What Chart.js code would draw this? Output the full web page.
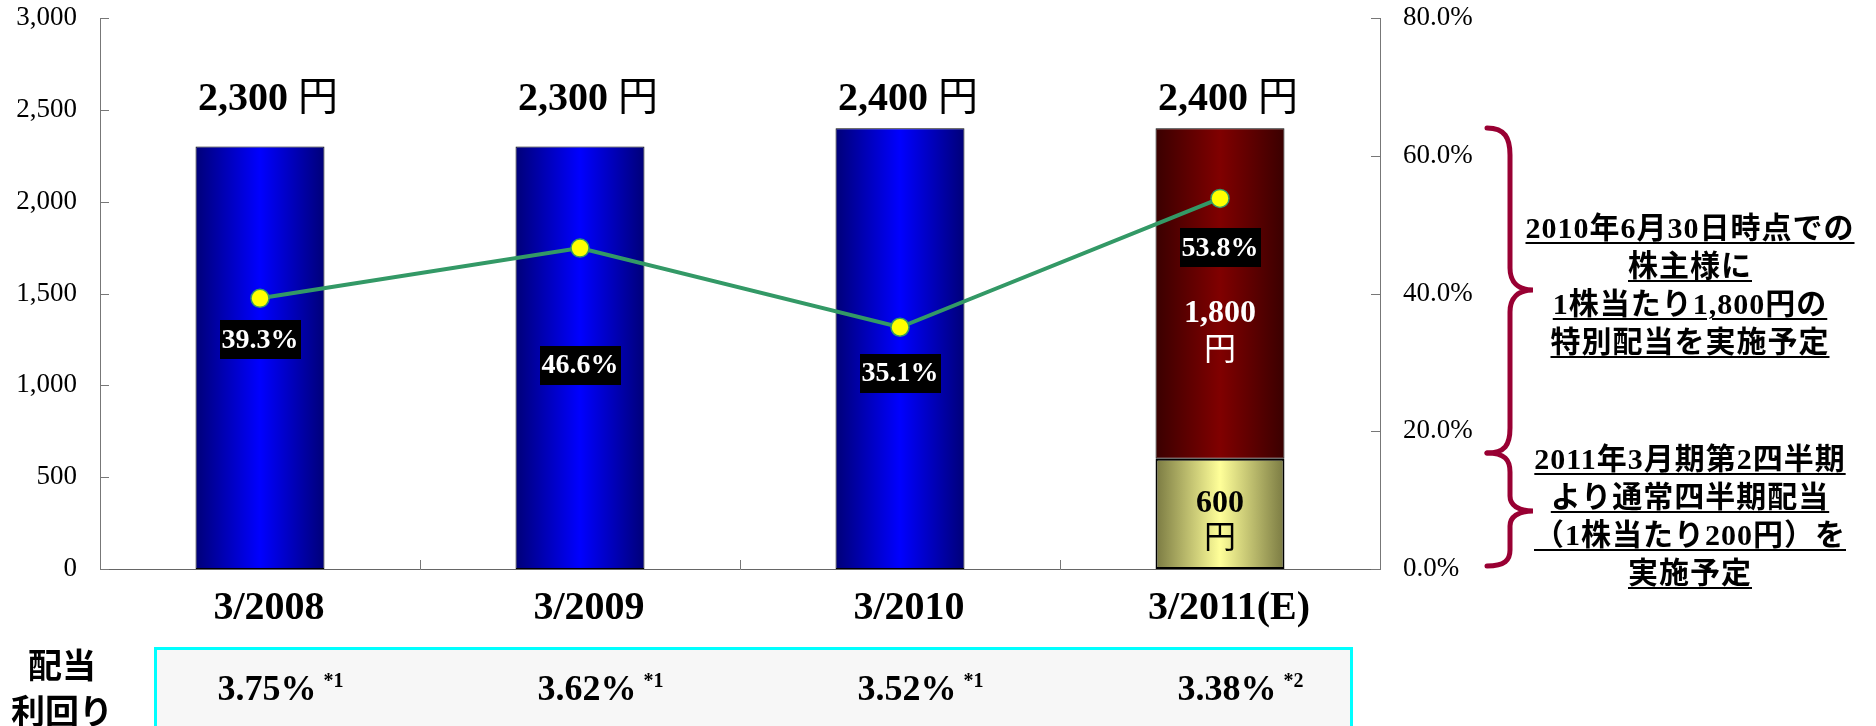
<!DOCTYPE html>
<html>
<head>
<meta charset="utf-8">
<script src="https://cdn.jsdelivr.net/npm/chart.js@4/dist/chart.umd.min.js"></script>
<style>
html,body{margin:0;padding:0;background:#fff;}
#wrap{position:relative;width:1876px;height:726px;overflow:hidden;}
#c{position:absolute;left:0;top:0;}
svg{position:absolute;left:0;top:0;}
.note{position:absolute;left:1515px;width:350px;text-align:center;font-family:'Liberation Serif','Noto Sans CJK JP',serif;font-weight:bold;font-size:30px;line-height:38px;color:#000;letter-spacing:1px;}
.note div span{text-decoration:underline;text-decoration-thickness:2px;text-underline-offset:4px;}
.ylab{position:absolute;left:0;top:641px;width:124px;text-align:center;font-family:'Noto Sans CJK JP',sans-serif;font-weight:bold;font-size:34px;line-height:46px;color:#000;}
</style>
</head>
<body>
<div id="wrap">
<canvas id="c" width="1876" height="726"></canvas>
<svg width="1876" height="726">
  <path d="M1487,128 C1505,128 1510,138 1510,155 L1510,268 C1510,282 1518,290 1533,290 C1518,290 1510,298 1510,312 L1510,428 C1510,445 1505,453 1487,453" fill="none" stroke="#990033" stroke-width="5" stroke-linecap="round"/>
  <path d="M1487,453 C1505,453 1510,460 1510,472 L1510,496 C1510,505 1518,511 1533,511 C1518,511 1510,517 1510,526 L1510,550 C1510,560 1505,566 1487,566" fill="none" stroke="#990033" stroke-width="5" stroke-linecap="round"/>
</svg>
<div class="note" style="top:209px">
  <div><span>2010年6月30日時点での</span></div>
  <div><span>株主様に</span></div>
  <div><span>1株当たり1,800円の</span></div>
  <div><span>特別配当を実施予定</span></div>
</div>
<div class="note" style="top:440px">
  <div><span>2011年3月期第2四半期</span></div>
  <div><span>より通常四半期配当</span></div>
  <div><span>（1株当たり200円）を</span></div>
  <div><span>実施予定</span></div>
</div>
<div class="ylab">配当<br>利回り</div>
</div>
<script>
// ---- data ----
const categories = ['3/2008', '3/2009', '3/2010', '3/2011(E)'];
const regularDividend = [2300, 2300, 2400, 600];
const specialDividend = [null, null, null, 1800];
const payoutRatio = [39.3, 46.6, 35.1, 53.8];
const dividendYield = ['3.75%', '3.62%', '3.52%', '3.38%'];
const yieldNotes = ['*1', '*1', '*1', '*2'];
const leftTickLabels = ['0', '500', '1,000', '1,500', '2,000', '2,500', '3,000'];
const rightTickLabels = ['0.0%', '20.0%', '40.0%', '60.0%', '80.0%'];

// ---- style ----
const SERIF = "'Liberation Serif', 'Noto Sans CJK JP', serif";
const BAR_PCT = 0.403;
const BLUE = ['#000078', '#0000ff'];
const RED = ['#3a0000', '#800000'];
const YELLOW = ['#7a7a42', '#ffff99'];
const pctLabelDy = [41, 117, 46, 49];

function barGradient(c, stops) {
  const chart = c.chart;
  if (!chart.chartArea || c.dataIndex === undefined) return stops[1];
  const xs = chart.scales.x;
  const cx = xs.getPixelForValue(c.dataIndex);
  const w = (xs.width / categories.length) * BAR_PCT;
  const g = chart.ctx.createLinearGradient(cx - w / 2, 0, cx + w / 2, 0);
  g.addColorStop(0, stops[0]);
  g.addColorStop(0.5, stops[1]);
  g.addColorStop(1, stops[0]);
  return g;
}

function drawParts(ctx, parts, cx, y) {
  let total = 0;
  parts.forEach(p => { ctx.font = p.font; p.w = ctx.measureText(p.t).width; total += p.w; });
  let x = cx - total / 2;
  ctx.textAlign = 'left';
  parts.forEach(p => { ctx.font = p.font; ctx.fillText(p.t, x, y); x += p.w; });
  return x;
}
const fmt = v => v.toLocaleString('en-US');
function noPad(s) { s.paddingTop = 0; s.paddingBottom = 0; s.paddingLeft = 0; s.paddingRight = 0; }

const decor = {
  id: 'decor',
  afterDatasetsDraw(chart) {
    const ctx = chart.ctx, ca = chart.chartArea;
    const xs = chart.scales.x, ys = chart.scales.y, y1 = chart.scales.y1;
    ctx.save();
    // inward tick marks
    ctx.strokeStyle = '#777'; ctx.lineWidth = 1;
    ctx.beginPath();
    ys.ticks.forEach((t, i) => { const p = Math.round(ys.getPixelForTick(i)) + 0.5; ctx.moveTo(ca.left, p); ctx.lineTo(ca.left + 9, p); });
    y1.ticks.forEach((t, i) => { const p = Math.round(y1.getPixelForTick(i)) + 0.5; ctx.moveTo(ca.right, p); ctx.lineTo(ca.right - 9, p); });
    for (let i = 0; i <= categories.length; i++) {
      const p = Math.round(xs.left + i * xs.width / categories.length) + 0.5;
      ctx.moveTo(p, ca.bottom); ctx.lineTo(p, ca.bottom - 9);
    }
    ctx.stroke();

    // totals above bars
    ctx.fillStyle = '#000'; ctx.textBaseline = 'alphabetic';
    const m0 = chart.getDatasetMeta(0), m1 = chart.getDatasetMeta(1);
    categories.forEach((c, i) => {
      const total = regularDividend[i] + (specialDividend[i] || 0);
      const cx = m0.data[i].x + 8;
      drawParts(ctx, [{t: fmt(total), font: 'bold 40px ' + SERIF}, {t: ' 円', font: '40px ' + SERIF}], cx, ca.top + 92);
    });

    // segment labels inside the stacked bar
    const segs = [
      {meta: m1, vals: specialDividend, color: '#fff', d1: 20, d2: 58},
      {meta: m0, vals: regularDividend, color: '#000', d1: -10, d2: 26, only: 3}
    ];
    ctx.textBaseline = 'middle';
    segs.forEach(s => {
      s.vals.forEach((v, i) => {
        if (v == null) return;
        if (s.only !== undefined && i !== s.only) return;
        const el = s.meta.data[i];
        const cy = (el.y + el.base) / 2;
        ctx.fillStyle = s.color; ctx.textAlign = 'center';
        ctx.font = 'bold 32px ' + SERIF; ctx.fillText(fmt(v), el.x, cy + s.d1);
        ctx.font = '32px ' + SERIF; ctx.fillText('円', el.x, cy + s.d2);
      });
    });

    // payout ratio labels
    const ml = chart.getDatasetMeta(2);
    ctx.font = 'bold 28px ' + SERIF;
    ml.data.forEach((pt, i) => {
      const t = payoutRatio[i].toFixed(1) + '%';
      const w = ctx.measureText(t).width + 4, h = 39;
      const cy = pt.y + pctLabelDy[i];
      ctx.fillStyle = '#000';
      ctx.fillRect(Math.round(pt.x - w / 2), Math.round(cy - h / 2), Math.round(w), h);
      ctx.fillStyle = '#fff'; ctx.textAlign = 'center'; ctx.textBaseline = 'middle';
      ctx.fillText(t, pt.x, cy + 1);
    });

    // dividend yield row
    ctx.fillStyle = '#f7f7f7';
    ctx.fillRect(155, 648, 1196, 90);
    ctx.strokeStyle = '#00ffff'; ctx.lineWidth = 3;
    ctx.strokeRect(155.5, 648.5, 1196, 90);
    ctx.fillStyle = '#000'; ctx.textBaseline = 'alphabetic';
    dividendYield.forEach((t, i) => {
      const cx = xs.getPixelForValue(i) + 7;
      ctx.font = 'bold 36px ' + SERIF; ctx.textAlign = 'center';
      ctx.fillText(t, cx, 700);
      const w = ctx.measureText(t).width;
      ctx.font = 'bold 20px ' + SERIF; ctx.textAlign = 'left';
      ctx.fillText(yieldNotes[i], cx + w / 2 + 7, 687);
    });
    ctx.restore();
  }
};

new Chart(document.getElementById('c'), {
  data: {
    labels: categories,
    datasets: [
      {
        type: 'bar', label: '普通配当', data: regularDividend, order: 1,
        backgroundColor: c => barGradient(c, c.dataIndex === 3 ? YELLOW : BLUE),
        borderColor: '#000', borderWidth: c => (c.dataIndex === 3 ? 2 : 1), borderSkipped: false,
        barPercentage: BAR_PCT, categoryPercentage: 1.0, yAxisID: 'y'
      },
      {
        type: 'bar', label: '特別配当', data: specialDividend, order: 1,
        backgroundColor: c => barGradient(c, RED),
        borderColor: '#000', borderWidth: 1, borderSkipped: false,
        barPercentage: BAR_PCT, categoryPercentage: 1.0, yAxisID: 'y'
      },
      {
        type: 'line', label: '配当性向', data: payoutRatio, order: 0, yAxisID: 'y1',
        borderColor: '#339966', borderWidth: 4, tension: 0, fill: false,
        pointRadius: 9, pointBackgroundColor: '#ffff00', pointBorderColor: '#339966', pointBorderWidth: 1.5
      }
    ]
  },
  options: {
    responsive: false, animation: false, devicePixelRatio: 1,
    layout: {padding: {top: 18, left: 0, right: 0, bottom: 0}},
    plugins: {legend: {display: false}, tooltip: {enabled: false}},
    scales: {
      x: {
        stacked: true, offset: true,
        grid: {display: false, drawTicks: false},
        border: {display: true, color: '#666', width: 1},
        ticks: {font: {family: SERIF, size: 40, weight: 'bold'}, color: '#000', padding: 16, labelOffset: 9, maxRotation: 0, autoSkip: false},
        afterFit(s) { s.height = 157; noPad(s); }
      },
      y: {
        position: 'left', stacked: true, min: 0, max: 3000,
        grid: {display: false, drawTicks: false},
        border: {display: true, color: '#777', width: 1},
        ticks: {stepSize: 500, callback: (v, i) => leftTickLabels[i], font: {family: SERIF, size: 27}, color: '#000', padding: 23},
        afterFit(s) { s.width = 100; noPad(s); }
      },
      y1: {
        position: 'right', min: 0, max: 80,
        grid: {display: false, drawTicks: false},
        border: {display: true, color: '#777', width: 1},
        ticks: {stepSize: 20, callback: (v, i) => rightTickLabels[i], font: {family: SERIF, size: 27}, color: '#000', padding: 23},
        afterFit(s) { s.width = 496; noPad(s); }
      }
    }
  },
  plugins: [decor]
});
</script>
</body>
</html>
